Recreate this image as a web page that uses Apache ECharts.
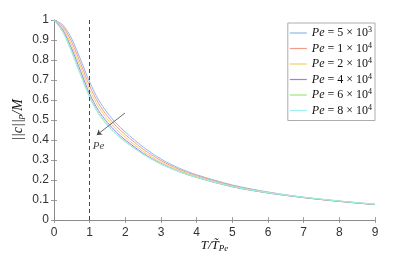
<!DOCTYPE html>
<html><head><meta charset="utf-8">
<script src="https://cdn.jsdelivr.net/npm/echarts@6/dist/echarts.min.js"></script>
<style>html,body{margin:0;padding:0;background:#fff}#c{width:415px;height:258px}</style>
</head><body><div id="c"></div>
<script>
const xs = [0,0.25,0.5,0.75,1,1.25,1.5,1.75,2,2.5,3,3.5,4,5,6,7,8,9];
const seriesNames = ['5e3','1e4','2e4','4e4','6e4','8e4'];
const legendMant = ['5','1','2','4','6','8'];
const legendExp = ['3','4','4','4','4','4'];
const colors = ['#8fb8ec','#f39a8a','#f2cf6a','#9d7ff0','#9ee27a','#9ef0f0'];
const pe5e3 = [1,0.975,0.905,0.800,0.690,0.600,0.535,0.482,0.440,0.365,0.305,0.260,0.226,0.175,0.140,0.114,0.095,0.079];
const pe1e4 = [1,0.967,0.889,0.781,0.670,0.583,0.519,0.468,0.427,0.354,0.297,0.254,0.222,0.172,0.138,0.113,0.094,0.078];
const pe2e4 = [1,0.958,0.872,0.762,0.650,0.566,0.503,0.453,0.413,0.343,0.289,0.248,0.217,0.168,0.136,0.112,0.093,0.077];
const pe4e4 = [1,0.949,0.855,0.742,0.630,0.547,0.487,0.439,0.400,0.334,0.282,0.243,0.213,0.166,0.135,0.112,0.093,0.077];
const pe6e4 = [1,0.942,0.842,0.727,0.618,0.534,0.475,0.429,0.392,0.329,0.280,0.242,0.213,0.167,0.136,0.113,0.094,0.078];
const pe8e4 = [1,0.938,0.836,0.721,0.612,0.530,0.472,0.427,0.391,0.329,0.280,0.243,0.214,0.168,0.137,0.114,0.095,0.079];
const allData = [pe5e3,pe1e4,pe2e4,pe4e4,pe6e4,pe8e4];
const dashedX = 1;
const arrowFrom = [1.99, 0.535];
const arrowTo = [1.2, 0.425];
const peLabelPos = [1.25, 0.37];

const chart = echarts.init(document.getElementById('c'), null, {renderer:'canvas'});
const serif = 'Liberation Serif';
const sans = 'Liberation Sans';
const series = allData.map((d,i)=>({
  name: seriesNames[i], type:'line', smooth:0.3, symbol:'none',
  data: xs.map((x,j)=>[x,d[j]]),
  lineStyle:{color:colors[i], width:1}, itemStyle:{color:colors[i]},
  z: 2
}));
series.push({
  name:'annot', type:'line', data:[], symbol:'none', silent:true,
  markLine:{
    silent:true, animation:false,
    data:[
      [{coord:[dashedX,0],symbol:'none',lineStyle:{type:[4,3], color:'#333', width:0.9}},{coord:[dashedX,1],symbol:'none'}],
      [{coord:arrowFrom,symbol:'none',lineStyle:{type:'solid', color:'#444', width:0.8}},{coord:arrowTo,symbol:'arrow',symbolSize:5}]
    ],
    label:{show:false}
  },
  z:3
});
series.push({
  name:'pelabel', type:'scatter', symbol:'circle', symbolSize:1, silent:true,
  itemStyle:{color:'rgba(0,0,0,0)'},
  data:[peLabelPos],
  label:{show:true, formatter:'Pe', fontFamily:serif, fontStyle:'italic', fontSize:11, color:'#111', position:'inside'},
  z:4
});
const axisCommon = {
  min:0, axisLine:{show:true,lineStyle:{color:'#888',width:0.8}},
  axisTick:{show:true,inside:true,length:3,lineStyle:{color:'#888',width:0.8}},
  splitLine:{show:false}
};
chart.setOption({
  animation:false,
  grid:{left:54, right:40, top:20, bottom:38},
  legend:{
    data: seriesNames, orient:'vertical', right:40, top:23,
    backgroundColor:'#fff', borderColor:'#999', borderWidth:0.8,
    padding:[3,3,3,2], itemGap:1.5, itemWidth:17, itemHeight:1.2, icon:'rect',
    formatter: n => { const i = seriesNames.indexOf(n); return '{i|Pe} = ' + legendMant[i] + ' × 10{s|' + legendExp[i] + '}'; },
    textStyle:{fontFamily:serif, fontSize:12, color:'#111', lineHeight:12,
      rich:{ i:{fontFamily:serif, fontStyle:'italic', fontSize:12, lineHeight:12}, s:{fontFamily:serif, fontSize:8, lineHeight:12, padding:[0,0,6,0]} }
    }
  },
  xAxis:[
    Object.assign({}, axisCommon, {type:'value', max:9, interval:1,
      axisLabel:{fontFamily:sans, fontSize:12, color:'#333', margin:7},
      name:'{a|T/T̃}{b|Pe}', nameLocation:'middle', nameGap:19, nameMoveOverlap:false,
      nameTextStyle:{rich:{a:{fontFamily:serif,fontStyle:'italic',fontSize:13,color:'#111'}, b:{fontFamily:serif,fontStyle:'italic',fontSize:9,color:'#111',padding:[5,0,0,0]}}}
    }),
    Object.assign({}, axisCommon, {type:'value', max:9, interval:1, position:'top', axisLabel:{show:false}})
  ],
  yAxis:[
    Object.assign({}, axisCommon, {type:'value', max:1, interval:0.1,
      axisLabel:{fontFamily:sans, fontSize:12, color:'#333', margin:5, formatter: v => String(Math.round(v*10)/10)},
      name:'{a|||c||}{b|p}{a|/M}', nameLocation:'middle', nameGap:29, nameMoveOverlap:false,
      nameTextStyle:{rich:{a:{fontFamily:serif,fontStyle:'italic',fontSize:14,color:'#111'}, b:{fontFamily:serif,fontStyle:'italic',fontSize:9,color:'#111',padding:[5,0,0,0]}}}
    }),
    Object.assign({}, axisCommon, {type:'value', max:1, interval:0.1, position:'right', axisLabel:{show:false}})
  ],
  series: series
});
</script></body></html>
